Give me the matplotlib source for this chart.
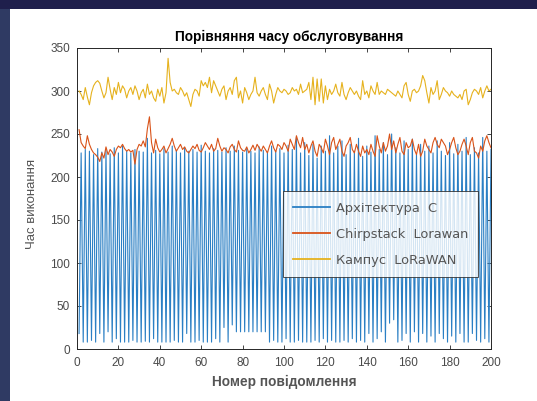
import numpy as np
import matplotlib.pyplot as plt
from matplotlib.patches import Rectangle

plt.rcParams["font.family"] = ["Liberation Sans", "DejaVu Sans"]

msg_no = np.arange(1, 201)

# Архітектура C: alternating long / short service times
arch_c = [
    18, 228, 8, 232, 8, 230, 10, 226, 8, 233, 18, 229, 8, 231, 20, 227, 8, 234, 12, 228,
    8, 236, 8, 230, 8, 228, 10, 232, 8, 230, 8, 229, 9, 245, 8, 228, 12, 231, 8, 227,
    8, 233, 8, 229, 8, 236, 10, 231, 8, 228, 8, 234, 18, 230, 8, 232, 8, 229, 10, 237,
    8, 230, 8, 228, 8, 233, 12, 231, 8, 229, 25, 234, 8, 230, 28, 236, 20, 231, 20, 229,
    20, 233, 20, 230, 20, 228, 20, 235, 20, 231, 20, 229, 8, 236, 10, 230, 8, 233, 8, 228,
    12, 237, 8, 232, 8, 246, 10, 228, 8, 240, 8, 225, 8, 238, 10, 222, 8, 236, 12, 230,
    8, 248, 10, 228, 8, 236, 8, 242, 10, 226, 8, 238, 12, 230, 8, 245, 10, 224, 8, 236,
    18, 229, 8, 248, 12, 232, 20, 240, 8, 226, 30, 250, 34, 234, 8, 228, 10, 242, 18, 232,
    8, 244, 20, 226, 8, 238, 18, 230, 8, 236, 15, 228, 8, 242, 18, 230, 12, 225, 8, 240,
    15, 227, 8, 238, 18, 230, 8, 246, 8, 226, 18, 234, 10, 228, 8, 246, 12, 230, 8, 232,
]

chirpstack = [
    255, 240, 236, 233, 248, 238, 232, 228, 226, 223, 218, 228, 222, 235, 226, 232, 229, 224, 232, 236,
    234, 238, 233, 230, 232, 229, 231, 215, 232, 238, 236, 242, 235, 256, 270, 240, 228, 244, 234, 229,
    232, 236, 228, 233, 238, 245, 236, 230, 234, 238, 232, 235, 230, 228, 232, 236, 233, 238, 231, 229,
    234, 240, 236, 232, 238, 230, 233, 245, 236, 230, 234, 232, 228, 235, 238, 232, 229, 242, 234, 231,
    230, 235, 228, 232, 237, 231, 238, 234, 230, 236, 232, 228, 236, 242, 234, 229, 238, 236, 232, 240,
    236, 230, 244, 238, 232, 248, 240, 234, 246, 232, 238, 228, 236, 242, 230, 224, 238, 234, 228, 244,
    236, 226, 240, 246, 232, 238, 244, 230, 224, 236, 240, 246, 232, 228, 238, 230, 224, 236, 228, 232,
    226, 238, 230, 224, 248, 236, 228, 240, 230, 236, 250, 232, 242, 228, 238, 246, 230, 226, 240, 234,
    236, 244, 232, 226, 238, 224, 230, 244, 236, 232, 228, 240, 246, 238, 234, 244, 240, 236, 226, 232,
    240, 246, 234, 226, 230, 238, 244, 236, 226, 240, 246, 230, 228, 222, 236, 230, 242, 248, 240, 234,
]

campus = [
    300, 296, 290, 304, 293, 284, 298, 306, 310, 312, 309, 300, 292, 298, 316, 302, 290, 304, 296, 310,
    298, 306, 302, 292, 300, 304, 296, 306, 300, 290, 298, 302, 292, 308, 296, 300, 292, 288, 302, 294,
    304, 286, 298, 338, 310, 300, 302, 298, 296, 304, 300, 294, 298, 290, 282, 296, 302, 300, 294, 312,
    306, 310, 304, 316, 298, 312, 306, 300, 294, 302, 306, 290, 300, 304, 296, 312, 316, 292, 300, 286,
    304, 298, 290, 296, 300, 316, 298, 294, 300, 304, 296, 290, 308, 300, 286, 296, 304, 300, 298, 302,
    300, 296, 298, 304, 300, 302, 296, 308, 298, 300, 302, 310, 290, 316, 284, 314, 288, 314, 286, 306,
    290, 302, 296, 300, 308, 298, 294, 310, 296, 290, 298, 304, 300, 296, 300, 294, 290, 312, 296, 300,
    292, 306, 300, 296, 310, 296, 300, 298, 296, 302, 300, 298, 296, 294, 300, 296, 292, 306, 310, 296,
    288, 300, 302, 298, 300, 306, 318, 312, 298, 286, 304, 296, 300, 312, 290, 296, 304, 300, 298, 294,
    300, 296, 294, 292, 296, 290, 300, 302, 284, 290, 298, 302, 300, 296, 304, 292, 300, 306, 300, 302,
]

labels = ["Архітектура  C", "Chirpstack  Lorawan", "Кампус  LoRaWAN"]
colors = ["#2a7fc4", "#d95319", "#e6b21e"]

fig = plt.figure(figsize=(5.37, 4.01), dpi=100)
fig.patch.set_facecolor("#2f3a63")
# white slide area with dark strips on top and left
fig.patches.append(Rectangle((0, 1 - 9 / 401), 1, 9 / 401, transform=fig.transFigure,
                             facecolor="#1f1f4c", edgecolor="none", zorder=-2))
fig.patches.append(Rectangle((10 / 537, 0), 1, 1 - 9 / 401, transform=fig.transFigure,
                             facecolor="white", edgecolor="none", zorder=-2))

ax = fig.add_axes([77 / 537, 1 - 349 / 401, 414 / 537, 301 / 401])
for y, lab, c in zip([arch_c, chirpstack, campus], labels, colors):
    ax.plot(msg_no, y, color=c, lw=0.8, label=lab)

ax.set_xlim(0, 200)
ax.set_ylim(0, 350)
ax.set_xticks(np.arange(0, 201, 20))
ax.set_yticks(np.arange(0, 351, 50))
ax.tick_params(direction="in", top=True, right=True, length=3, width=0.6,
               labelsize=8.5, labelcolor="#4a4a4a", color="#262626")
ax.tick_params(axis="x", pad=6)
ax.tick_params(axis="y", pad=5)
for s in ax.spines.values():
    s.set_linewidth(0.7)
    s.set_color("#262626")

ax.set_title("Порівняння часу обслуговування", fontsize=9.8, fontweight="bold", pad=5, x=0.512)
ax.set_xlabel("Номер повідомлення", fontsize=9.8, color="#555555", fontweight="bold", labelpad=4)
ax.set_ylabel("Час виконання", fontsize=9.5, color="#555555")
ax.yaxis.set_label_coords(-0.094, 0.482)

leg = ax.legend(loc="upper left", bbox_to_anchor=(0.497, 0.524), prop={"family": "DejaVu Sans", "size": 9.4},
                frameon=True, fancybox=False, edgecolor="#262626", labelspacing=1.0,
                handlelength=2.8, borderpad=0.8, handletextpad=0.45, labelcolor="#555555",
                borderaxespad=0)
leg.get_frame().set_linewidth(0.7)
for line in leg.get_lines():
    line.set_linewidth(1.3)

plt.savefig("out.png", dpi=100)
plt.close()
